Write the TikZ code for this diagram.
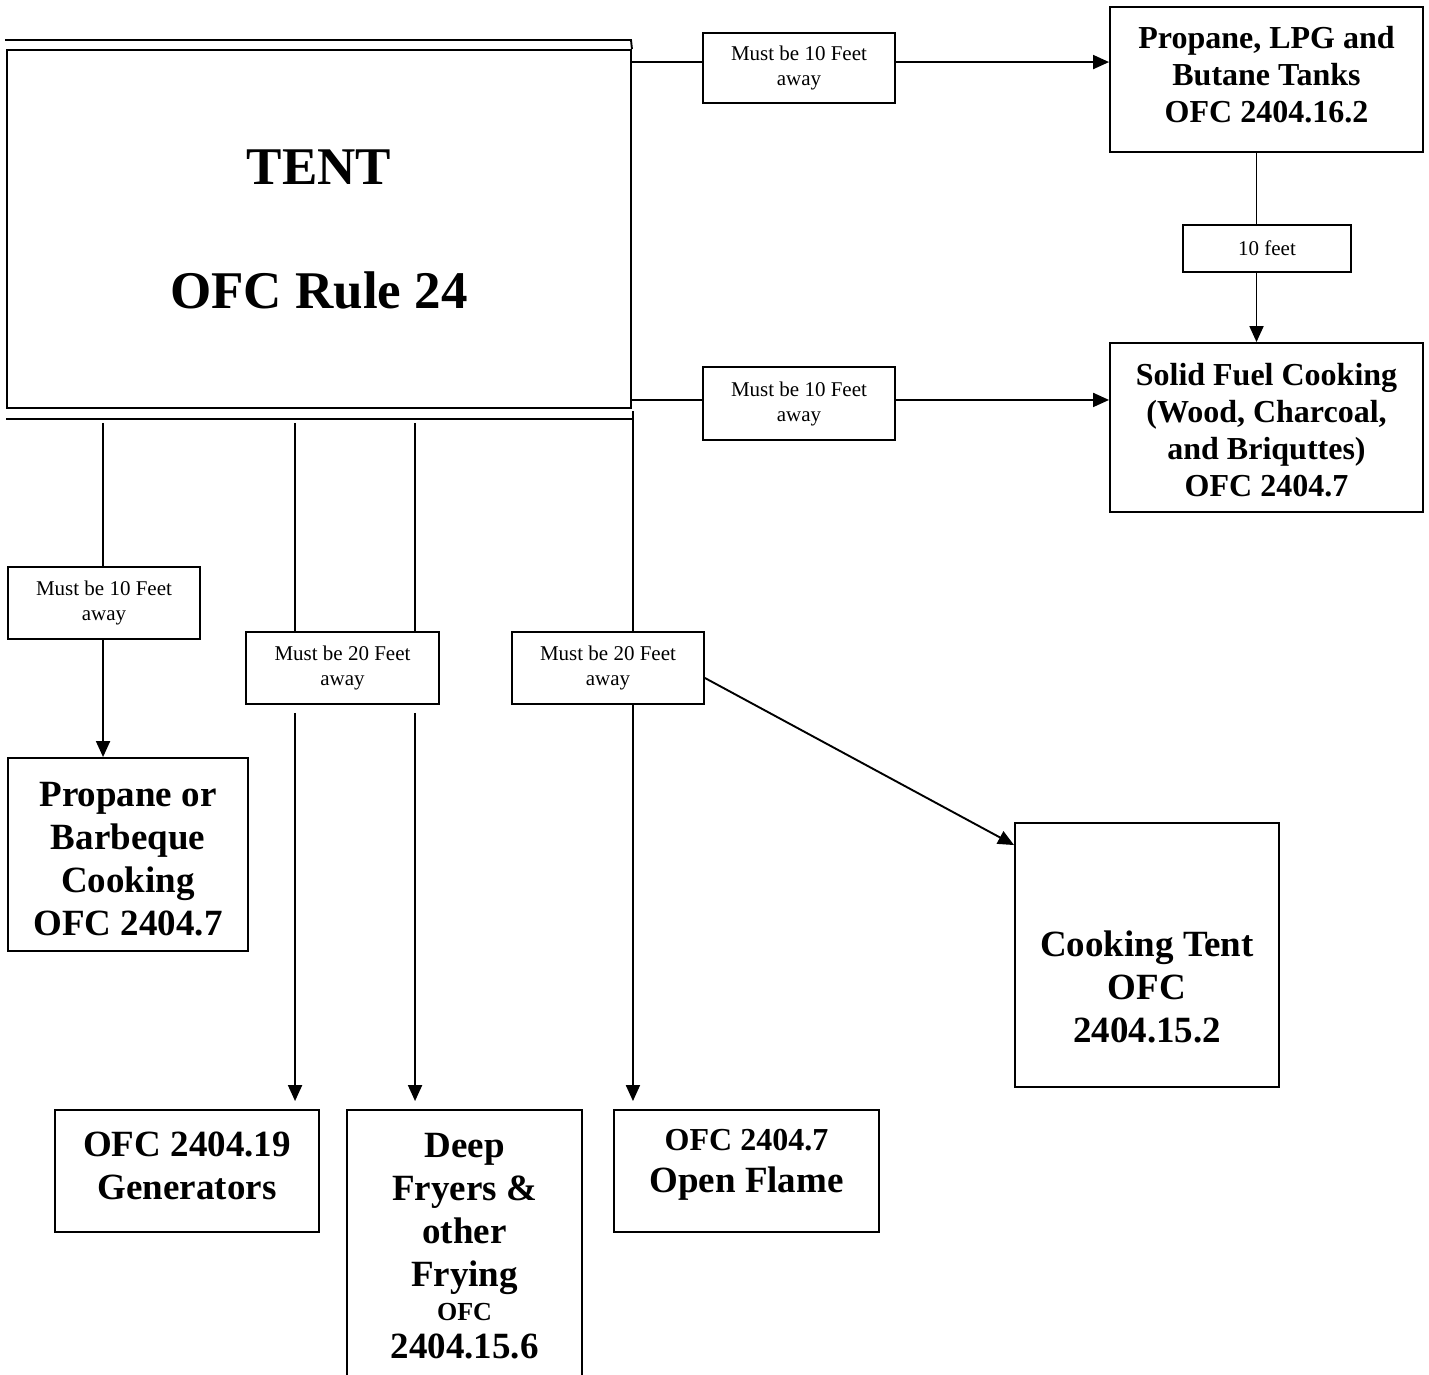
\documentclass[tikz,border=0pt]{standalone}
\usepackage{fontspec}
\setmainfont{Liberation Serif}
\usetikzlibrary{arrows.meta,calc}
\begin{document}
\begin{tikzpicture}[x=1pt,y=-1pt,line width=1.9pt,
  box/.style={draw,rectangle,inner sep=0pt,align=center},
  txt/.style={inner sep=0pt,align=center},
  small/.style={font=\fontsize{21}{25}\selectfont},
  big/.style={font=\fontsize{37}{43}\selectfont\bfseries},
  mid/.style={font=\fontsize{32}{37}\selectfont\bfseries},
  arr/.style={-{Triangle[length=16pt,width=14pt]}}]
\useasboundingbox (0,0) rectangle (1429,1374);
\clip (0,0) rectangle (1429,1374);
% tent
\node[box,minimum width=624,minimum height=358,font=\fontsize{53}{62}\selectfont\bfseries] (tent) at (319,229) {TENT\\[62pt]OFC Rule 24};
\draw (5,40) -- (631,40) -- (tent.north east);
\draw ($(tent.south west)+(0,10)$) -- ($(tent.south east)+(1,10)$);
% right column
\node[box,minimum width=313,minimum height=145] (p1) at (1266.5,79.5) {};
\node[txt,mid] (p1t) at (1266.5,74.5) {Propane, LPG and\\Butane Tanks\\OFC 2404.16.2};
\node[box,minimum width=192,minimum height=70,small] (m1) at (799,68) {Must be 10 Feet\\away};
\node[box,minimum width=192,minimum height=73,small] (m2) at (799,403.5) {Must be 10 Feet\\away};
\node[box,minimum width=168,minimum height=47,small] (f10) at (1267,248.5) {10 feet};
\node[box,minimum width=313,minimum height=169] (sf) at (1266.5,427.5) {};
\node[txt,mid] (sft) at (1266.5,430.5) {Solid Fuel Cooking\\(Wood, Charcoal,\\and Briquttes)\\OFC 2404.7};
% lower row of labels
\node[box,minimum width=192,minimum height=72,small] (m3) at (104,603) {Must be 10 Feet\\away};
\node[box,minimum width=193,minimum height=72,small] (m4) at (342.5,668) {Must be 20 Feet\\away};
\node[box,minimum width=192,minimum height=72,small] (m5) at (608,668) {Must be 20 Feet\\away};
% targets
\node[box,minimum width=240,minimum height=193] (bbq) at (128,854.5) {};
\node[txt,big] (bbqt) at (128,859.5) {Propane or\\Barbeque\\Cooking\\OFC 2404.7};
\node[box,minimum width=264,minimum height=122] (gen) at (187,1171) {};
\node[txt,big] (gent) at (187,1166) {OFC 2404.19\\Generators};
\node[box,minimum width=235,minimum height=273,big] (fry) at (464.5,1246.5) {Deep\\Fryers \&\\other\\Frying\\[-9pt]{\fontsize{26}{30}\selectfont OFC}\\[-5pt]2404.15.6};
\node[box,minimum width=265,minimum height=122] (flame) at (746.5,1171) {};
\node[txt,big] (flamet) at (746.5,1165) {{\fontsize{32}{37}\selectfont OFC 2404.7}\\[-1pt]Open Flame};
\node[box,minimum width=264,minimum height=264] (ct) at (1147,955) {};
\node[txt,big] (ctt) at (1147,987) {Cooking Tent\\OFC\\2404.15.2};
% connectors right
\coordinate (a1) at ($(tent.north east)+(0,13)$);
\draw (a1) -- (a1 -| m1.west);
\draw[arr] (a1 -| m1.east) -- (a1 -| p1.west);
\coordinate (a2) at ($(tent.south east)+(0,-9)$);
\draw (a2) -- (a2 -| m2.west);
\draw[arr] (a2 -| m2.east) -- (a2 -| sf.west);
\coordinate (c1) at ($(p1.south)+(-10,0)$);
\draw (c1) -- (c1 |- f10.north);
\draw[arr] (c1 |- f10.south) -- (c1 |- sf.north);
% connectors below
\coordinate (b1) at ($(tent.south west)+(97,14)$);
\draw (b1) -- (b1 |- m3.north);
\draw[arr] (b1 |- m3.south) -- (b1 |- bbq.north);
\coordinate (b2) at ($(tent.south west)+(289,14)$);
\draw (b2) -- (b2 |- m4.north);
\draw[arr] ($(b2 |- m4.south)+(0,8)$) -- ($(b2 |- gen.north)+(0,-8)$);
\coordinate (b3) at ($(tent.south west)+(409,14)$);
\draw (b3) -- (b3 |- m4.north);
\draw[arr] ($(b3 |- m4.south)+(0,8)$) -- ($(b3 |- fry.north)+(0,-8)$);
\coordinate (b4) at ($(tent.south east)+(1,2)$);
\draw (b4) -- (b4 |- m5.north);
\draw[arr] (b4 |- m5.south) -- ($(b4 |- flame.north)+(0,-8)$);
\draw[arr] ($(m5.east)+(0,10)$) -- ($(ct.north west)+(0,23)$);
\end{tikzpicture}
\end{document}
